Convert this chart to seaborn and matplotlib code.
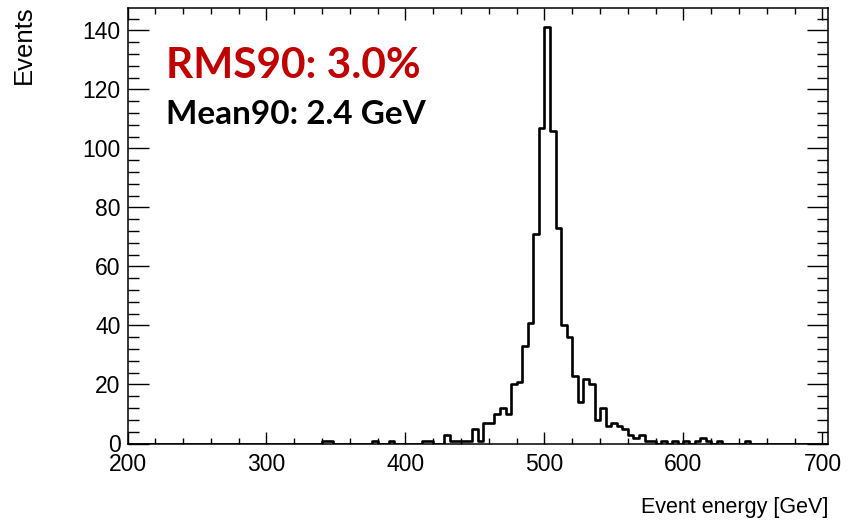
import numpy as np
import pandas as pd
import seaborn as sns
import matplotlib.pyplot as plt
from matplotlib.ticker import MultipleLocator

# lower edges of non-empty 4 GeV bins and their counts
bin_lo = [340, 344, 376, 388, 412, 416, 428, 432, 436, 440, 444, 448, 452, 456,
          460, 464, 468, 472, 476, 480, 484, 488, 492, 496, 500, 504, 508, 512,
          516, 520, 524, 528, 532, 536, 540, 544, 548, 552, 556, 560, 564, 568,
          572, 576, 584, 592, 600, 608, 612, 616, 624, 644]
counts = [1, 1, 1, 1, 1, 1, 3, 1, 1, 1, 1, 5, 1, 7,
          7, 10, 12, 10, 20, 21, 33, 41, 71, 107, 141, 106, 73, 40,
          36, 23, 14, 22, 20, 8, 12, 6, 7, 6, 5, 3, 2, 3,
          1, 1, 1, 1, 1, 1, 2, 1, 1, 1]
bin_width = 4
x_range = (200, 704)

rms90_text = 'RMS90: 3.0%'
mean90_text = 'Mean90: 2.4 GeV'

df = pd.DataFrame({'energy': np.array(bin_lo) + bin_width / 2, 'n': counts})

sns.set_style('ticks')
plt.rcParams['font.family'] = ['Liberation Sans', 'DejaVu Sans']

fig = plt.figure(figsize=(8.56, 5.22), dpi=100)
ax = fig.add_axes([127.5 / 856, 78.5 / 522, (828 - 127.5) / 856, (443.5 - 8) / 522])

sns.histplot(data=df, x='energy', weights='n',
             binwidth=bin_width, binrange=x_range,
             element='step', fill=False, color='black', linewidth=1.9, ax=ax)

ax.set_xlim(*x_range)
ax.set_ylim(0, 147.6)
ax.xaxis.set_major_locator(MultipleLocator(100))
ax.xaxis.set_minor_locator(MultipleLocator(20))
ax.yaxis.set_major_locator(MultipleLocator(20))
ax.yaxis.set_minor_locator(MultipleLocator(4))
ax.set_xlabel('')
ax.set_ylabel('')

for s in ax.spines.values():
    s.set_visible(True)
    s.set_linewidth(1.1)
    s.set_color('black')

ax.tick_params(axis='both', which='both', direction='in', top=True, right=True,
               color='black', labelcolor='black', width=1.0)
ax.tick_params(axis='x', which='major', length=8.5, labelsize=16.5, pad=6.5)
ax.tick_params(axis='x', which='minor', length=4.3)
ax.tick_params(axis='y', which='major', length=15, labelsize=16.5, pad=5)
ax.tick_params(axis='y', which='minor', length=7.7)

fig.text(36 / 856, 1 - 5 / 522, 'Events', rotation=90, ha='right', va='top',
         fontsize=18.5, color='black')
fig.text(828 / 856, 1 - 512.5 / 522, 'Event energy [GeV]', ha='right', va='baseline',
         fontsize=15.5, color='black')

ax.text(166 / 856, 1 - 78.5 / 522, rms90_text, transform=fig.transFigure,
        family=['Lato', 'DejaVu Sans'], fontweight='bold', fontsize=30.5,
        color='#c00000', ha='left', va='baseline')
ax.text(166 / 856, 1 - 123.5 / 522, mean90_text, transform=fig.transFigure,
        family=['Lato', 'DejaVu Sans'], fontweight='bold', fontsize=24,
        color='black', ha='left', va='baseline')

fig.savefig('out.png', dpi=100)
